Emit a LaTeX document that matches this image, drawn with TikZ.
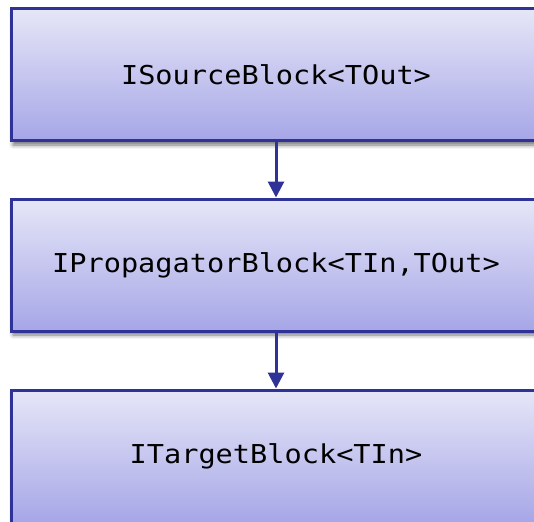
\documentclass[tikz,border=0pt]{standalone}
\usepackage{fontspec}
\newfontfamily\codefont[FakeStretch=1.1]{DejaVu Sans Mono}
\usetikzlibrary{arrows.meta,shadows.blur}
\definecolor{edgeblue}{HTML}{2F3296}
\definecolor{filltop}{HTML}{E6E6F8}
\definecolor{fillbottom}{HTML}{A6A6E7}
\tikzset{
  block/.style={draw=edgeblue, line width=3pt, top color=filltop, bottom color=fillbottom,
    minimum width=530pt, minimum height=132pt, inner sep=0pt,
    font=\codefont\fontsize{26}{31}\selectfont,
    blur shadow={shadow xshift=2pt, shadow yshift=-4pt, shadow blur radius=4pt, shadow opacity=55}},
  link/.style={draw=edgeblue, line width=3pt, -{Triangle[width=16pt,length=16pt]}}
}
\begin{document}
\begin{tikzpicture}[x=1pt,y=-1pt]
  \useasboundingbox (0,0) rectangle (534,521);
  \clip (0,0) rectangle (534,521);
  \node[block] (src) at (276,75) {ISourceBlock<TOut>};
  \node[block] (prop) at (276,265) {IPropagatorBlock<TIn,TOut>};
  \node[block, minimum height=133pt] (tgt) at (276,456.5) {ITargetBlock<TIn>};
  \draw[link] (src) -- (prop);
  \draw[link] (prop) -- (tgt);
\end{tikzpicture}
\end{document}
